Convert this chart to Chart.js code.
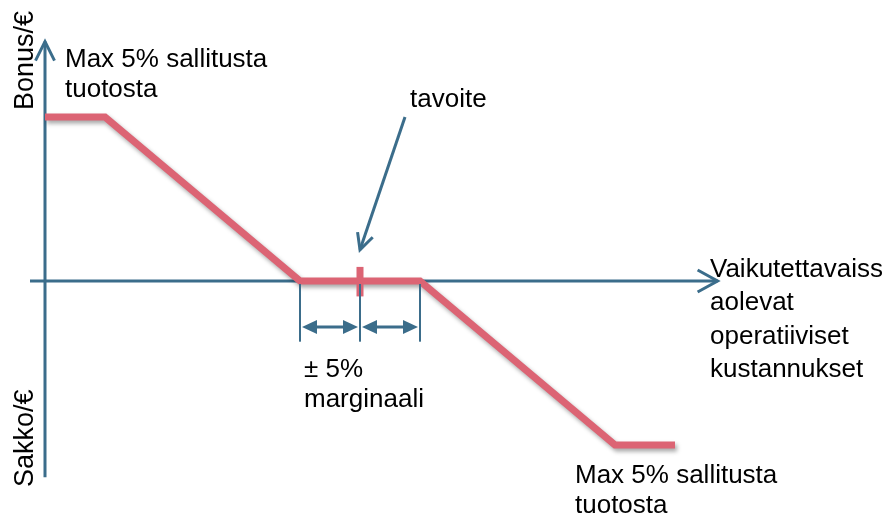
<!DOCTYPE html>
<html>
<head>
<meta charset="utf-8">
<script src="https://cdn.jsdelivr.net/npm/chart.js@4"></script>
<style>
  html, body { margin: 0; padding: 0; background: #fff; }
  #wrap { width: 889px; height: 517px; position: relative; }
</style>
</head>
<body>
<div id="wrap"><canvas id="bonusChart"></canvas></div>
<script>
// kustannus suhteessa tavoitteeseen (%) ja bonus/sakko (% tuotosta)
const costX = [-26.25, -21.25, -5, 5, 21.25, 26.25];
const bonusY = [5, 5, 0, 0, -5, -5];
const marginLimits = [-5, 0, 5];
const targetX = 0;

const topLabel = ["Max 5% sallitusta", "tuotosta"];
const bottomLabel = ["Max 5% sallitusta", "tuotosta"];
const xAxisLabel = ["Vaikutettavaiss", "aolevat", "operatiiviset", "kustannukset"];
const marginLabel = ["\u00b1 5%", "marginaali"];
const targetLabel = "tavoite";
const yTopLabel = "Bonus/\u20ac";
const yBottomLabel = "Sakko/\u20ac";

const AXIS = "#3b6d8b";
const PINK = "#dc6474";
const FONT = '26px "Liberation Sans", Arial, sans-serif';

function chevron(ctx, tipX, tipY, angle, len, half) {
    // avoin nuolenpää
    const bx = tipX - Math.cos(angle) * len, by = tipY - Math.sin(angle) * len;
    const nx = -Math.sin(angle) * half, ny = Math.cos(angle) * half;
    ctx.beginPath();
    ctx.moveTo(bx + nx, by + ny);
    ctx.lineTo(tipX, tipY);
    ctx.lineTo(bx - nx, by - ny);
    ctx.stroke();
}

function solidHead(ctx, tipX, tipY, dir, len, half) {
    ctx.beginPath();
    ctx.moveTo(tipX, tipY);
    ctx.lineTo(tipX - dir * len, tipY - half);
    ctx.lineTo(tipX - dir * len, tipY + half);
    ctx.closePath();
    ctx.fill();
}

const diagramPlugin = {
    id: "diagram",
    beforeDatasetsDraw(chart) {
        const ctx = chart.ctx;
        const x = chart.scales.x, y = chart.scales.y;
        const x0 = x.getPixelForValue(costX[0]);
        const y0 = y.getPixelForValue(0);
        ctx.save();
        ctx.strokeStyle = AXIS;
        ctx.lineWidth = 3;
        ctx.lineCap = "butt";
        // pystyakseli
        const yTop = y.getPixelForValue(7.3);
        const yBot = y.getPixelForValue(-5.98);
        ctx.beginPath();
        ctx.moveTo(x0, yBot);
        ctx.lineTo(x0, yTop);
        ctx.stroke();
        chevron(ctx, x0, yTop, -Math.PI / 2, 19, 9.5);
        // vaaka-akseli
        const xStart = x.getPixelForValue(-27.5);
        const xEnd = x.getPixelForValue(29.8);
        ctx.beginPath();
        ctx.moveTo(xStart, y0);
        ctx.lineTo(xEnd, y0);
        ctx.stroke();
        chevron(ctx, xEnd, y0, 0, 20, 11);
        ctx.restore();
    },
    beforeDatasetDraw(chart) {
        const ctx = chart.ctx;
        ctx.save();
        ctx.shadowColor = "rgba(0,0,0,0.35)";
        ctx.shadowBlur = 4;
        ctx.shadowOffsetX = 2;
        ctx.shadowOffsetY = 3;
    },
    afterDatasetDraw(chart) {
        chart.ctx.restore();
    },
    afterDatasetsDraw(chart) {
        const ctx = chart.ctx;
        const x = chart.scales.x, y = chart.scales.y;
        const y0 = y.getPixelForValue(0);
        ctx.save();

        // tavoitteen merkki
        const tx = x.getPixelForValue(targetX);
        ctx.fillStyle = PINK;
        ctx.fillRect(tx - 3.5, y.getPixelForValue(0.43), 7, y.getPixelForValue(-0.47) - y.getPixelForValue(0.43));

        // marginaalin rajat
        ctx.strokeStyle = AXIS;
        ctx.fillStyle = AXIS;
        ctx.lineWidth = 2;
        const bTop = y0 + 3;
        const bBot = y.getPixelForValue(-1.85);
        const arrowY = y.getPixelForValue(-1.4);
        marginLimits.forEach(v => {
            const px = x.getPixelForValue(v);
            ctx.beginPath();
            ctx.moveTo(px, bTop);
            ctx.lineTo(px, bBot);
            ctx.stroke();
        });
        ctx.lineWidth = 3;
        for (let i = 0; i < marginLimits.length - 1; i++) {
            const a = x.getPixelForValue(marginLimits[i]) + 2;
            const b = x.getPixelForValue(marginLimits[i + 1]) - 2;
            ctx.beginPath();
            ctx.moveTo(a + 10, arrowY);
            ctx.lineTo(b - 10, arrowY);
            ctx.stroke();
            solidHead(ctx, a, arrowY, -1, 15, 7);
            solidHead(ctx, b, arrowY, 1, 15, 7);
        }

        // tavoite-nuoli
        ctx.lineWidth = 3;
        const fx = x.getPixelForValue(3.75), fy = y.getPixelForValue(5);
        const ax = tx, ay = y.getPixelForValue(0.95);
        ctx.beginPath();
        ctx.moveTo(fx, fy);
        ctx.lineTo(ax, ay);
        ctx.stroke();
        chevron(ctx, ax, ay, Math.atan2(ay - fy, ax - fx), 16, 8);

        // tekstit
        ctx.fillStyle = "#000";
        ctx.font = FONT;
        ctx.textBaseline = "alphabetic";
        ctx.textAlign = "left";
        const lines = (arr, lx, ly, lh) => arr.forEach((t, i) => ctx.fillText(t, lx, ly + i * lh));
        lines(topLabel, 65, 67, 30);
        lines(bottomLabel, 575, 483, 30);
        lines(xAxisLabel, 710, 277, 33.3);
        lines(marginLabel, 304, 377, 30);
        ctx.fillText(targetLabel, 410, 107);

        ctx.font = '27px "Liberation Sans", Arial, sans-serif';
        ctx.save();
        ctx.translate(33, 110);
        ctx.rotate(-Math.PI / 2);
        ctx.fillText(yTopLabel, 0, 0);
        ctx.restore();
        ctx.save();
        ctx.translate(33, 487);
        ctx.rotate(-Math.PI / 2);
        ctx.fillText(yBottomLabel, 0, 0);
        ctx.restore();

        ctx.restore();
    }
};

const ctx = document.getElementById("bonusChart").getContext("2d");
const chart = new Chart(ctx, {
    type: "scatter",
    data: {
        datasets: [{
            data: costX.map((v, i) => ({ x: v, y: bonusY[i] })),
            showLine: true,
            borderColor: PINK,
            borderWidth: 7,
            borderJoinStyle: "miter",
            borderCapStyle: "butt",
            pointRadius: 0,
            tension: 0,
            clip: false
        }]
    },
    options: {
        responsive: true,
        maintainAspectRatio: false,
        animation: false,
        layout: { padding: 0 },
        plugins: {
            legend: { display: false },
            tooltip: { enabled: false }
        },
        scales: {
            x: { type: "linear", min: -30, max: 44.083, display: false },
            y: { type: "linear", min: -7.195, max: 8.567, display: false }
        }
    },
    plugins: [diagramPlugin]
});
</script>
</body>
</html>
